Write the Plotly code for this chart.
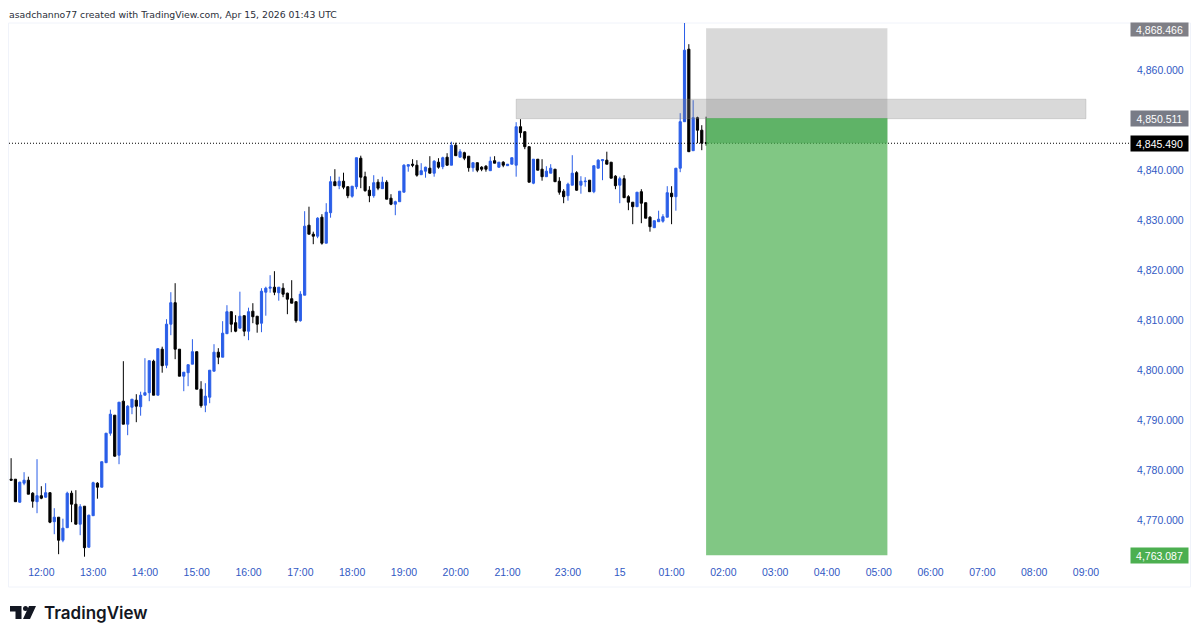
import plotly.graph_objects as go

# 5 minute bars
opens = [
    4778.3,4778.3,4773.7,4777.5,4778.1,4775.5,4773.8,4775.0,4774.7,4775.6,
    4769.8,4770.7,4766.1,4768.6,4775.5,4773.3,4769.3,4772.9,4764.7,4771.0,
    4777.5,4776.7,4781.6,4787.5,4791.1,4783.1,4793.9,4789.3,4792.7,4794.1,
    4792.8,4795.1,4795.6,4801.9,4795.1,4804.3,4801.1,4809.3,4813.6,4804.3,
    4798.9,4799.6,4801.3,4803.8,4796.3,4793.1,4794.7,4799.9,4803.7,4802.7,
    4807.4,4811.8,4809.6,4808.5,4811.0,4807.9,4811.9,4810.9,4809.5,4815.7,
    4816.5,4816.7,4815.6,4816.5,4815.5,4814.4,4813.8,4810.0,4815.1,4829.1,
    4827.3,4826.9,4830.7,4825.5,4831.6,4837.8,4837.0,4837.9,4836.8,4834.9,
    4836.8,4842.5,4838.8,4836.1,4835.0,4837.7,4836.4,4837.7,4834.5,4833.3,
    4833.8,4835.7,4840.9,4841.3,4841.1,4839.2,4839.9,4840.5,4839.5,4841.7,
    4840.8,4842.7,4841.1,4845.1,4842.7,4843.6,4842.9,4840.6,4841.6,4840.7,
    4840.9,4840.0,4842.0,4840.7,4841.7,4841.0,4841.3,4841.1,4848.8,4847.8,
    4844.8,4837.5,4842.3,4840.3,4838.8,4839.5,4840.3,4837.9,4835.9,4835.0,
    4837.1,4839.6,4837.1,4837.8,4838.1,4835.8,4840.5,4842.0,4842.1,4841.7,
    4838.9,4837.1,4838.4,4834.8,4833.7,4832.8,4835.8,4833.6,4830.7,4828.6,
    4829.8,4829.9,4830.7,4835.5,4834.8,4840.5,4849.8,4864.3,4844.0,4850.6,4848.1,4845.6,
]
highs = [
    4782.5,4778.3,4777.8,4779.7,4778.8,4775.7,4782.3,4776.9,4777.5,4775.6,
    4772.5,4770.7,4770.4,4775.8,4776.0,4776.1,4773.3,4772.9,4771.2,4777.8,
    4777.7,4781.8,4787.5,4792.2,4791.1,4793.7,4801.9,4793.1,4794.3,4795.3,
    4795.8,4802.5,4802.0,4802.2,4804.4,4804.8,4810.3,4815.7,4817.5,4804.3,
    4799.7,4801.2,4806.3,4803.8,4797.9,4797.5,4800.1,4805.3,4804.5,4809.9,
    4813.1,4811.8,4811.1,4815.8,4811.0,4812.6,4813.5,4810.9,4816.5,4816.8,
    4819.1,4819.9,4816.7,4817.5,4815.6,4818.1,4813.8,4815.9,4831.9,4832.8,
    4827.8,4830.7,4831.3,4833.5,4838.9,4840.3,4838.8,4839.6,4836.8,4836.9,
    4842.6,4843.0,4839.8,4836.9,4839.1,4838.3,4838.8,4838.1,4835.3,4834.0,
    4835.9,4841.3,4841.2,4842.3,4842.1,4841.5,4840.8,4842.9,4842.1,4842.5,
    4842.8,4843.5,4845.8,4845.6,4844.3,4843.8,4842.9,4841.6,4841.6,4840.9,
    4841.1,4842.8,4842.9,4841.7,4841.9,4841.3,4842.6,4849.7,4850.3,4847.8,
    4844.8,4842.3,4842.3,4842.3,4840.9,4841.3,4840.3,4838.7,4836.3,4837.6,
    4843.1,4839.9,4838.9,4838.7,4838.1,4841.0,4842.3,4842.3,4843.8,4841.7,
    4839.1,4838.8,4839.1,4835.1,4833.7,4835.7,4836.3,4833.6,4830.9,4830.0,
    4832.0,4831.3,4836.9,4836.9,4840.5,4851.5,4870.5,4865.3,4854.1,4850.8,4849.1,4850.8,
]
lows = [
    4778.1,4773.8,4773.6,4777.1,4775.3,4772.6,4771.5,4774.3,4774.6,4769.5,
    4767.3,4763.3,4765.7,4768.6,4769.7,4769.3,4767.1,4762.8,4764.6,4771.0,
    4774.4,4776.7,4781.6,4787.0,4782.8,4781.3,4789.3,4787.1,4791.3,4789.7,
    4791.0,4795.1,4793.9,4795.1,4795.1,4799.6,4800.5,4807.1,4802.3,4798.9,
    4795.9,4796.9,4801.3,4796.3,4792.6,4791.7,4793.5,4799.9,4801.3,4802.7,
    4807.4,4807.7,4807.7,4808.5,4806.9,4806.1,4809.5,4807.6,4807.7,4811.0,
    4815.6,4815.1,4814.0,4814.7,4811.3,4813.5,4809.6,4809.8,4815.1,4827.3,
    4825.3,4826.5,4825.2,4825.5,4830.6,4837.0,4836.3,4836.3,4834.5,4834.6,
    4836.3,4836.5,4835.8,4833.7,4834.6,4836.1,4836.4,4834.3,4833.1,4831.1,
    4833.8,4835.7,4839.8,4840.7,4838.8,4839.2,4838.6,4839.5,4838.8,4840.4,
    4840.3,4841.0,4841.1,4843.0,4842.7,4842.1,4839.8,4839.8,4839.7,4839.9,
    4839.8,4840.0,4841.5,4840.6,4840.7,4841.0,4841.3,4838.8,4846.6,4844.3,
    4837.7,4837.3,4840.1,4838.0,4838.8,4839.5,4837.8,4835.2,4833.5,4834.0,
    4837.1,4836.0,4835.4,4836.8,4835.8,4835.5,4840.5,4838.1,4841.3,4838.5,
    4836.3,4833.5,4834.6,4832.1,4829.3,4832.8,4829.5,4830.5,4827.8,4828.6,
    4829.8,4829.6,4830.7,4829.3,4832.0,4839.7,4849.8,4843.8,4844.0,4845.5,4844.1,4845.0,
]
closes = [
    4778.1,4773.8,4777.7,4778.1,4775.3,4773.9,4775.0,4774.5,4775.6,4769.7,
    4770.7,4766.1,4768.5,4775.5,4773.3,4769.3,4772.8,4764.6,4771.1,4777.6,
    4776.7,4781.8,4787.5,4791.3,4782.9,4793.7,4789.3,4792.9,4794.3,4792.9,
    4795.1,4795.6,4802.0,4795.1,4804.4,4801.0,4809.3,4813.6,4804.3,4798.9,
    4799.7,4801.2,4803.8,4796.3,4793.0,4794.9,4800.1,4803.7,4802.7,4807.5,
    4811.8,4809.3,4807.9,4810.9,4807.9,4811.8,4810.8,4809.3,4815.9,4816.5,
    4816.7,4815.7,4816.7,4815.3,4814.3,4813.5,4810.0,4815.3,4828.9,4827.3,
    4826.9,4830.5,4825.5,4831.7,4837.8,4837.0,4837.9,4836.7,4835.0,4836.9,
    4842.6,4838.7,4836.0,4835.0,4837.6,4836.5,4837.7,4834.3,4833.3,4833.8,
    4835.9,4841.1,4841.2,4841.1,4839.1,4840.0,4840.7,4839.5,4841.9,4840.7,
    4842.6,4841.1,4845.1,4843.0,4843.8,4842.5,4840.6,4841.6,4840.1,4840.3,
    4840.3,4841.9,4841.5,4841.7,4841.1,4841.3,4842.6,4848.8,4847.6,4844.8,
    4837.7,4842.3,4840.1,4838.8,4839.9,4840.5,4837.8,4835.7,4834.8,4837.3,
    4839.5,4836.1,4837.9,4837.9,4835.8,4841.0,4842.1,4842.2,4841.3,4838.5,
    4837.0,4838.4,4834.6,4833.7,4832.8,4835.7,4833.5,4830.5,4828.8,4830.0,
    4830.3,4830.8,4835.6,4834.8,4840.5,4849.8,4864.1,4843.8,4850.6,4848.1,4845.5,4845.49,
]
bars = list(range(len(opens)))

# time axis: the feed has a gap around the daily break, so the axis counts bars
time_labels = ["12:00", "13:00", "14:00", "15:00", "16:00", "17:00", "18:00", "19:00", "20:00", "21:00",
               "23:00", "15", "01:00", "02:00", "03:00", "04:00", "05:00", "06:00", "07:00", "08:00", "09:00"]
time_bars = [7, 19, 31, 43, 55, 67, 79, 91, 103, 115, 129, 141, 153, 165, 177, 189, 201, 213, 225, 237, 249]

price_ticks = [4860, 4840, 4830, 4820, 4810, 4800, 4790, 4780, 4770]

# drawings
stop_price = 4868.466
entry_price = 4850.511
target_price = 4763.087
last_price = closes[-1]
position_bars = [161, 203]
zone_bars = [117, 249]
zone_prices = [4850.4, 4854.3]

BLUE = "#2a5ee8"
TEXT_BLUE = "#3159c4"
# the page has an 8px body margin, so the figure is 16px smaller than the window
PAGE = 8
W, H = 1200 - 2 * PAGE, 639 - 2 * PAGE
L, R, T, B = 9, 1130, 23, 564


def px_x(v):
    return (v - L) / (R - L)


def px_y(v):
    return 1 - (v - T) / (B - T)


fig = go.Figure(go.Candlestick(
    x=bars, open=opens, high=highs, low=lows, close=closes,
    whiskerwidth=0, hoverinfo="skip", showlegend=False,
    increasing=dict(line=dict(color=BLUE, width=1), fillcolor=BLUE),
    decreasing=dict(line=dict(color="#000000", width=1), fillcolor="#000000"),
))

gray = "rgba(128,128,128,0.3)"
green = "rgba(76,175,80,0.7)"
shapes = [
    # outer frame
    dict(type="rect", xref="paper", yref="paper", x0=px_x(8.5), x1=px_x(1190.5), y0=px_y(587), y1=px_y(23),
         line=dict(color="#f0f3fa", width=1), layer="below"),
    # last price line
    dict(type="line", xref="paper", yref="y", x0=0, x1=1, y0=last_price, y1=last_price,
         line=dict(color="#000000", width=1, dash="1px,2px")),
    # resistance zone
    dict(type="rect", x0=zone_bars[0], x1=zone_bars[1], y0=zone_prices[0], y1=zone_prices[1],
         fillcolor=gray, line=dict(color="rgba(128,128,128,0.25)", width=1)),
    # short position box
    dict(type="rect", x0=position_bars[0], x1=position_bars[1], y0=entry_price, y1=stop_price,
         fillcolor=gray, line=dict(width=0)),
    dict(type="rect", x0=position_bars[0], x1=position_bars[1], y0=target_price, y1=entry_price,
         fillcolor=green, line=dict(width=0)),
    dict(type="rect", x0=position_bars[0], x1=position_bars[1], y0=last_price, y1=entry_price,
         fillcolor="rgba(46,150,60,0.4)", line=dict(width=0)),
    # logo
    dict(type="path", xref="paper", yref="paper", fillcolor="#131722", line=dict(width=0),
         path=" ".join([
             f"M {px_x(10)} {px_y(606)} L {px_x(21.5)} {px_y(606)} L {px_x(21.5)} {px_y(619)}",
             f"L {px_x(15.5)} {px_y(619)} L {px_x(15.5)} {px_y(611.5)} L {px_x(10)} {px_y(611.5)} Z",
             f"M {px_x(29)} {px_y(606)} L {px_x(36)} {px_y(606)} L {px_x(30)} {px_y(619)}",
             f"L {px_x(23)} {px_y(619)} Z",
         ])),
    dict(type="circle", xref="paper", yref="paper", fillcolor="#131722", line=dict(width=0),
         x0=px_x(23), x1=px_x(28), y0=px_y(611), y1=px_y(606)),
]


def price_label(price, color, text, height=15, yshift=0):
    return dict(xref="paper", yref="y", x=1, y=price, xanchor="left", yanchor="middle",
                text=text, showarrow=False, bgcolor=color, width=57, height=height, yshift=yshift,
                borderpad=0, font=dict(family="Liberation Sans", size=10.5, color="#ffffff"), align="center")


annotations = [
    dict(xref="paper", yref="paper", x=px_x(8), y=px_y(8), xanchor="left", yanchor="top", borderpad=0,
         text="asadchanno77 created with TradingView.com, Apr 15, 2026 01:43 UTC", showarrow=False,
         font=dict(family="DejaVu Sans", size=9.3, color="#2a2e39")),
    dict(xref="paper", yref="paper", x=px_x(41.5), y=px_y(613), xanchor="left", yanchor="middle",
         text="TradingView", showarrow=False,
         font=dict(family="Inter", size=17, color="#131722", weight=600)),
    price_label(stop_price, "#7f7f86", f"{stop_price:,.3f}", height=13, yshift=-1),
    price_label(entry_price, "#787b86", f"{entry_price:,.3f}"),
    price_label(last_price, "#000000", "4,845.490"),
    price_label(target_price, "#4caf50", f"{target_price:,.3f}"),
]

fig.update_layout(
    width=W, height=H, autosize=False,
    margin=dict(l=L - PAGE, r=W + PAGE - R, t=T - PAGE, b=H + PAGE - B, pad=0),
    paper_bgcolor="#ffffff", plot_bgcolor="#ffffff", boxgap=0.28,
    shapes=shapes, annotations=annotations, showlegend=False,
    xaxis=dict(
        range=[-0.49, 259.2], rangeslider=dict(visible=False), showgrid=False, zeroline=False,
        showline=False, tickmode="array", tickvals=time_bars, ticktext=time_labels, ticks="",
        tickfont=dict(family="Liberation Sans", size=10.5, color=TEXT_BLUE),
    ),
    yaxis=dict(
        side="right", range=[4761.34, 4869.54], showgrid=False, zeroline=False, showline=False,
        tickmode="array", tickvals=price_ticks, ticktext=[f"{p:,.3f}" for p in price_ticks], ticks="",
        ticklabelstandoff=6,
        tickfont=dict(family="Liberation Sans", size=10.5, color=TEXT_BLUE),
    ),
)

fig.write_html("out.html", config=dict(displayModeBar=False))
